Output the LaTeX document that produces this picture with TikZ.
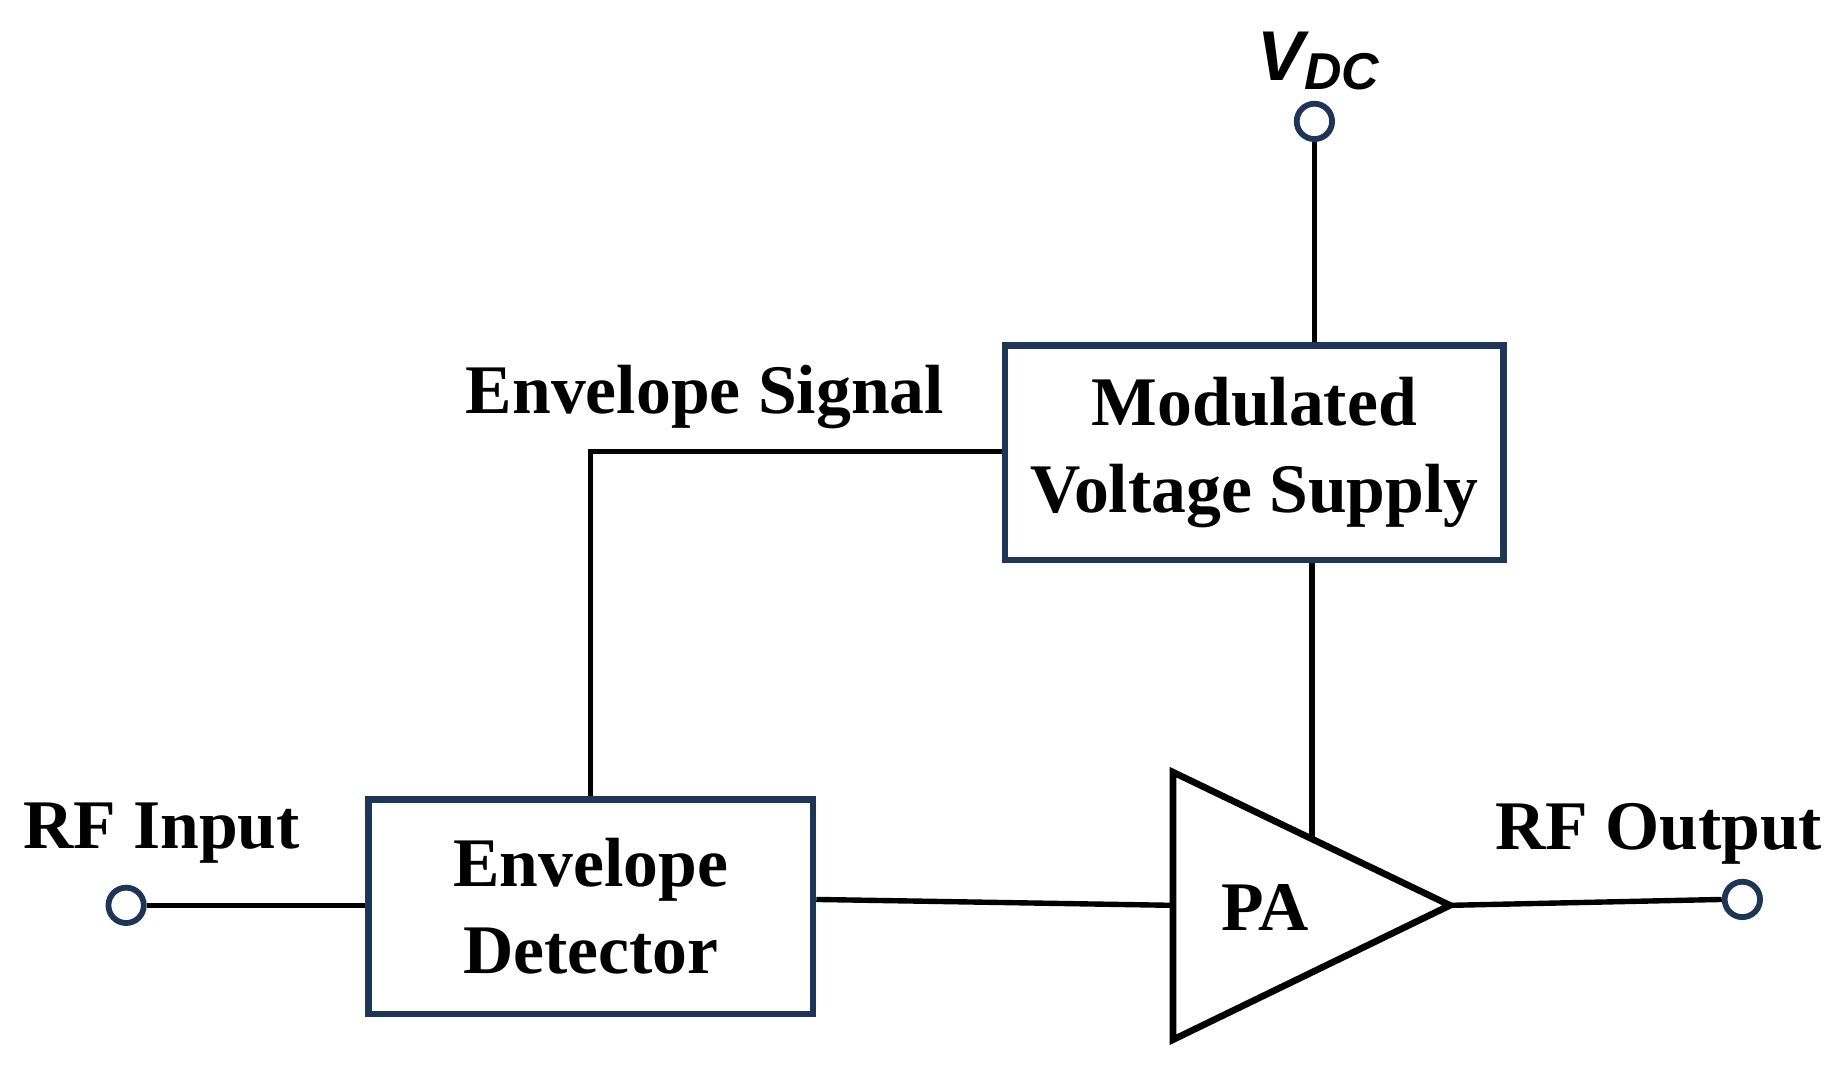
\documentclass[tikz,border=0pt]{standalone}
\usepackage{fontspec}
\setmainfont{Liberation Serif}
\newfontfamily\vdcfont{Liberation Sans}
\begin{document}
\begin{tikzpicture}[x=0.01cm,y=-0.01cm,
  box/.style={draw=navy,line width=1.6pt,minimum width=4.2cm,minimum height=1.82cm,align=center,font=\fontsize{16.8}{21}\selectfont\bfseries},
  lbl/.style={font=\fontsize{16.8}{21}\selectfont\bfseries},
  term/.style={circle,draw=navy,line width=1.4pt,fill=white,minimum size=0.3cm,inner sep=0pt},
  wire/.style={line width=1.3pt}]
\definecolor{navy}{HTML}{1F3558}
\useasboundingbox (0,0) rectangle (1560,904);
\node[box,minimum width=4.23cm] (mvs) at (1064,384) {Modulated\\Voltage Supply};
\node[box,minimum width=3.77cm] (ed) at (501,769) {Envelope\\Detector};
\coordinate (t1) at (995,655); \coordinate (t2) at (995,882); \coordinate (tip) at (1230,768);
\draw[line width=1.6pt] (t1) -- (tip) -- (t2) -- cycle;
\node[lbl] (pa) at (1073,770) {PA};
\node[term] (vdc) at (1115,103) {};
\node[term] (rfin) at (107,768) {};
\node[term] (rfout) at (1478,763) {};
\node[font=\fontsize{17}{20}\selectfont\vdcfont\bfseries\itshape] (vdcl) at (1118,52) {V\raisebox{-0.25ex}{\fontsize{12.5}{14}\selectfont DC}};
\node[lbl] (esl) at (598,337) {Envelope Signal};
\node[lbl] (rfinl) at (137,707) {RF Input};
\node[lbl] (rfoutl) at (1407,707) {RF Output};
\coordinate (pav) at (1113,712);
\draw[wire] (vdc.south) -- (vdc.south |- mvs.north);
\draw[wire] (mvs.west |- 0,383) -| (ed.north);
\draw[wire] (rfin.east) -- (ed.west |- rfin.east);
\draw[wire] (ed.east |- 0,763) -- (995,768);
\draw[wire] (mvs.south -| pav) -- (pav);
\draw[wire] (tip) -- (rfout.west);
\end{tikzpicture}
\end{document}
